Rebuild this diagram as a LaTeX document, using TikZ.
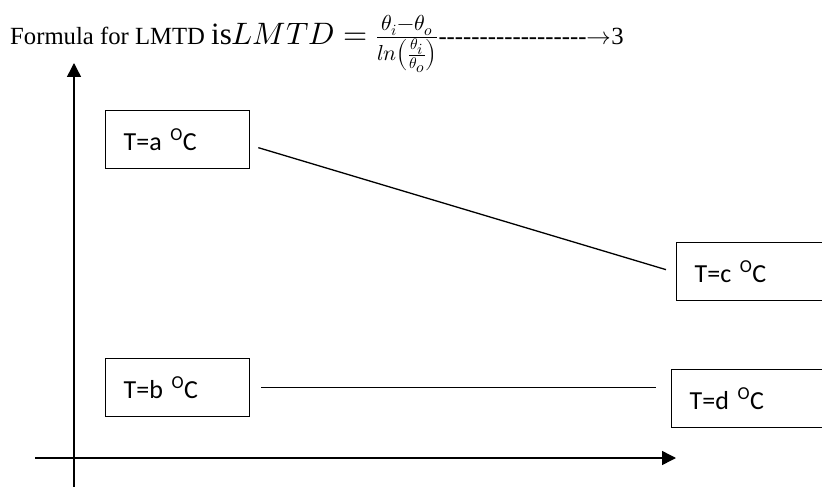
\documentclass[tikz,border=0pt]{standalone}
\usepackage{unicode-math}
\setmainfont{Liberation Serif}
\newfontfamily\calibri{Carlito}
\usetikzlibrary{arrows.meta}

\tikzset{
  tempbox/.style={draw, line width=1.3pt, minimum height=58pt, inner xsep=18pt,
    inner ysep=0pt, anchor=north west, align=left,
    font=\calibri\fontsize{26}{30}\selectfont},
  axis/.style={line width=1.5pt, -{Triangle[length=14pt,width=14pt]}},
  link/.style={line width=1.3pt}
}
\newcommand\degC{\textsuperscript{O}C}
\newcommand\dashrun[1]{\foreach \k in {1,...,#1}{\mbox{-}}}

\begin{document}
\begin{tikzpicture}[x=1pt, y=-1pt]

  \clip (0,0) rectangle (822,487);
  \useasboundingbox (0,0) rectangle (822,487);

  % Formula line
  \node[anchor=base west, inner sep=0pt] (formula) at (10,45)
    {\fontsize{24.7}{30}\selectfont Formula for LMTD {\fontsize{31}{38}\selectfont
     is$LMTD = \frac{\theta_i-\theta_o}{ln\left(\frac{\theta_i}{\theta_o}\right)}$}\dashrun{18}$\rightarrow$3};

  % Axes
  \coordinate (yfoot) at (74,490);
  \coordinate (ytip)  at (74,63);
  \coordinate (xfoot) at (35,458);
  \coordinate (xtip)  at (676,458);
  \draw[axis] (yfoot) -- (ytip);
  \draw[axis] (xfoot) -- (xtip);

  % Temperature boxes
  \node[tempbox, text width=108pt] (Ta) at (105,110) {T=a \degC};
  \node[tempbox, text width=108pt] (Tb) at (105,358) {T=b \degC};
  \node[tempbox, text width=200pt] (Tc) at (676,242) {T=c \degC};
  \node[tempbox, text width=200pt] (Td) at (671,369) {T=d \degC};

  % Temperature lines
  \draw[link] ([xshift=8pt,yshift=-8pt]Ta.east) -- ([xshift=-10pt,yshift=2pt]Tc.west);
  \draw[link] ([xshift=11pt]Tb.east) -- ([xshift=-15pt,yshift=11pt]Td.west);

\end{tikzpicture}
\end{document}
